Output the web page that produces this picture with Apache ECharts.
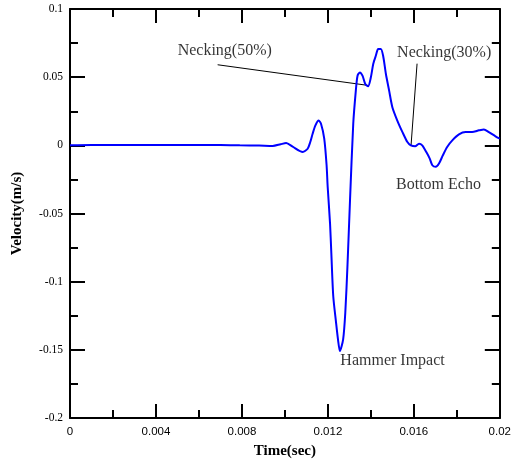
<!DOCTYPE html>
<html>
<head>
<meta charset="utf-8">
<style>
  html, body { margin: 0; padding: 0; background: #fff; }
  #chart { width: 514px; height: 464px; }
</style>
<script src="https://cdn.jsdelivr.net/npm/echarts@6/dist/echarts.min.js"></script>
</head>
<body>
<div id="chart"></div>
<script>
// Velocity record of the hammer test (time in s, velocity in m/s)
const timeSec = [
  0, 0.001, 0.002, 0.003, 0.004, 0.005, 0.006, 0.007, 0.0079, 0.0088,
  0.00943, 0.0098, 0.01006, 0.01036, 0.01083, 0.01106, 0.01118, 0.01129, 0.01142, 0.01157,
  0.01168, 0.01183, 0.01194, 0.01199, 0.0121, 0.01216, 0.01225, 0.01238, 0.01247, 0.01256,
  0.01271, 0.01281, 0.01291, 0.01303, 0.01318, 0.0133, 0.01338, 0.01349, 0.01361,
  0.01374, 0.01387, 0.014, 0.01411, 0.01423, 0.01434, 0.01446, 0.01457, 0.0147, 0.01485,
  0.015, 0.01523, 0.01547, 0.0157, 0.01586, 0.01606, 0.01624, 0.01639, 0.01658, 0.01674,
  0.01686, 0.01702, 0.01717, 0.01735, 0.01755, 0.01779, 0.0181, 0.01841, 0.01871, 0.01903,
  0.01926, 0.01949, 0.0198, 0.02
];
const velocity = [
  0, 0.0003, 0.0002, 0.0003, 0.0002, 0.0003, 0.0003, 0.0002, 0.0, -0.0002,
  -0.0005, 0.0008, 0.0017, -0.001, -0.0049, -0.0025, 0.0024, 0.0085, 0.0146, 0.0182,
  0.0158, 0.0049, -0.0146, -0.0304, -0.0572, -0.079, -0.1107, -0.130, -0.1423, -0.1509,
  -0.1423, -0.1228, -0.0888, -0.0401, 0.0158, 0.0401, 0.0511, 0.0535, 0.0511,
  0.045, 0.0433, 0.0499, 0.0597, 0.0657, 0.0706, 0.0706, 0.0657, 0.0523, 0.0401,
  0.028, 0.0182, 0.0097, 0.0024, 0.0, -0.0007, 0.0012, 0.0, -0.0049, -0.0097,
  -0.0146, -0.0158, -0.0134, -0.0073, -0.0012, 0.0036, 0.008, 0.0097, 0.0097, 0.011,
  0.0117, 0.0097, 0.0066, 0.0049
];

// Axis ranges and tick spacing
const xMin = 0, xMax = 0.02, xStep = 0.004;
const yMin = -0.2, yMax = 0.1, yStep = 0.05;

// Annotation texts, anchored at their left edge (time, velocity)
const noteTexts = ['Necking(50%)', 'Necking(30%)', 'Bottom Echo', 'Hammer Impact'];
const noteAnchors = [[0.00501, 0.0690], [0.01522, 0.0677], [0.01517, -0.0292], [0.01258, -0.1577]];

// Leader lines pointing at the necking features
const leader50 = [[0.00687, 0.0591], [0.01385, 0.0440]];
const leader30 = [[0.01615, 0.0599], [0.01587, 0.0]];

const fmt = v => String(+v.toFixed(4));

const chart = echarts.init(document.getElementById('chart'), null, { renderer: 'canvas' });

const frameLine = { show: true, onZero: false, lineStyle: { color: '#000', width: 2 } };
const innerTick = len => ({ show: true, inside: true, length: len, lineStyle: { color: '#000', width: 2 } });
const innerMinor = { show: true, splitNumber: 2, length: 8, lineStyle: { color: '#000', width: 2 } };

chart.setOption({
  animation: false,
  backgroundColor: '#fff',
  grid: { left: 70, right: 13, top: 9, bottom: 45, containLabel: false },
  xAxis: [
    {
      type: 'value', position: 'bottom', min: xMin, max: xMax, interval: xStep,
      axisLine: frameLine, axisTick: innerTick(14), minorTick: innerMinor,
      splitLine: { show: false },
      axisLabel: { margin: 8, color: '#000', fontFamily: 'Liberation Sans, Arial, sans-serif', fontSize: 11.5, formatter: fmt },
      name: 'Time(sec)', nameLocation: 'middle', nameGap: 26,
      nameTextStyle: { color: '#000', fontFamily: 'Liberation Serif, Times New Roman, serif', fontWeight: 'bold', fontSize: 15 }
    },
    {
      type: 'value', position: 'top', min: xMin, max: xMax, interval: xStep,
      axisLine: frameLine, axisTick: innerTick(14), minorTick: innerMinor,
      splitLine: { show: false }, axisLabel: { show: false }
    }
  ],
  yAxis: [
    {
      type: 'value', position: 'left', min: yMin, max: yMax, interval: yStep,
      axisLine: frameLine, axisTick: innerTick(15), minorTick: innerMinor,
      splitLine: { show: false },
      axisLabel: { margin: 7, color: '#000', fontFamily: 'Liberation Serif, Times New Roman, serif', fontSize: 11.5, formatter: fmt },
      name: 'Velocity(m/s)', nameLocation: 'middle', nameGap: 45, nameRotate: 90,
      nameTextStyle: { color: '#000', fontFamily: 'Liberation Serif, Times New Roman, serif', fontWeight: 'bold', fontSize: 15 }
    },
    {
      type: 'value', position: 'right', min: yMin, max: yMax, interval: yStep,
      axisLine: frameLine, axisTick: innerTick(15), minorTick: innerMinor,
      splitLine: { show: false }, axisLabel: { show: false }
    }
  ],
  series: [
    {
      type: 'line',
      data: timeSec.map((t, i) => [t, velocity[i]]),
      showSymbol: false,
      smooth: 0.25,
      lineStyle: { color: '#0000ff', width: 2 },
      z: 3
    },
    {
      type: 'line', data: leader50, showSymbol: false,
      lineStyle: { color: '#000', width: 1 }, z: 2
    },
    {
      type: 'line', data: leader30, showSymbol: false,
      lineStyle: { color: '#000', width: 1 }, z: 2
    },
    {
      type: 'scatter',
      symbolSize: 0,
      data: noteAnchors.map((p, i) => ({ value: p, name: noteTexts[i] })),
      label: {
        show: true, position: 'right', distance: 0,
        formatter: p => p.name,
        color: '#000', fontFamily: 'Liberation Serif, Times New Roman, serif', fontSize: 16
      },
      z: 4
    }
  ]
});
</script>
</body>
</html>
